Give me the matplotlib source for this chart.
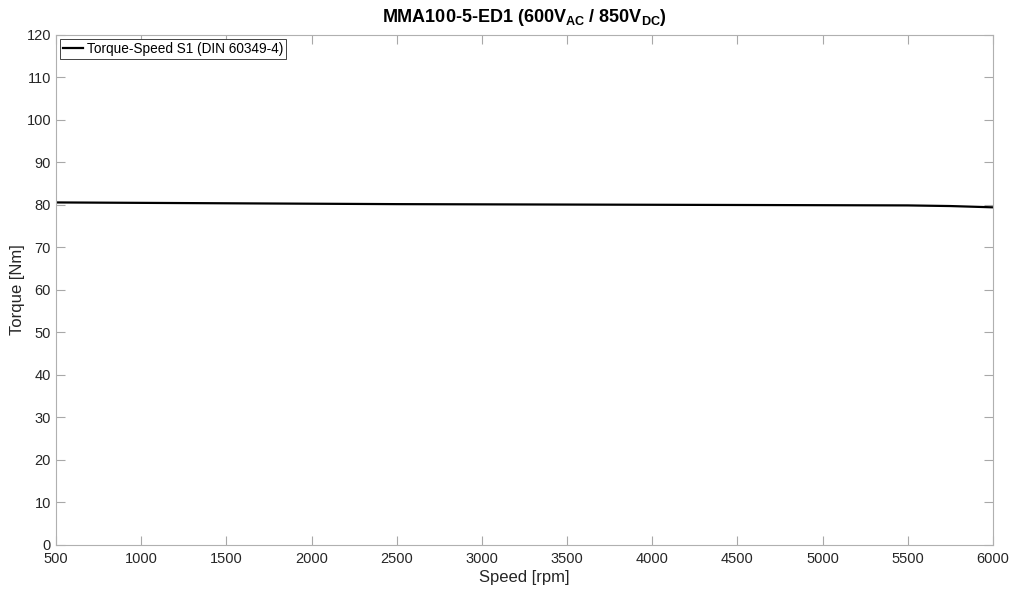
import numpy as np
import matplotlib.pyplot as plt

plt.rcParams['font.family'] = ['Liberation Sans', 'DejaVu Sans']
plt.rcParams['mathtext.fontset'] = 'custom'
plt.rcParams['mathtext.bf'] = 'Liberation Sans:bold'
plt.rcParams['mathtext.rm'] = 'Liberation Sans'

# Kennlinie S1
speed = [500, 1000, 1500, 2000, 2500, 3000, 3500, 4000, 4500, 5000, 5500, 5750, 6000]
torque = [80.6, 80.5, 80.4, 80.3, 80.2, 80.15, 80.1, 80.05, 80.0, 79.95, 79.9, 79.75, 79.45]

xticks = np.arange(500, 6001, 500)
yticks = np.arange(0, 121, 10)

fig = plt.figure(figsize=(10.12, 5.9), dpi=100)
ax = fig.add_axes([0.0553, 0.0763, 0.9259, 0.8644])

ax.plot(speed, torque, color='black', lw=1.6, label='Torque-Speed S1 (DIN 60349-4)')

ax.set_xlim(500, 6000)
ax.set_ylim(0, 120)
ax.set_xticks(xticks)
ax.set_yticks(yticks)
ax.tick_params(direction='in', length=6.5, width=0.8, color='#a8a8a8',
               labelsize=10.5, labelcolor='#262626', top=True, right=True)
ax.tick_params(axis='x', pad=5)
for s in ax.spines.values():
    s.set_color('#b0b0b0')
    s.set_linewidth(0.8)

ax.set_xlabel('Speed [rpm]', fontsize=12, color='#262626', labelpad=3)
ax.set_ylabel('Torque [Nm]', fontsize=12, color='#262626', labelpad=1)
ax.set_title(r'MMA100-5-ED1 (600V$_{\mathbf{AC}}$ / 850V$_{\mathbf{DC}}$)',
             fontsize=13, fontweight='bold', color='black', pad=9)

leg = ax.legend(loc='upper left', fontsize=9.8, handlelength=1.5, handletextpad=0.3,
                borderpad=0.2, borderaxespad=0.3, fancybox=False, framealpha=1)
leg.get_frame().set_edgecolor('#262626')
leg.get_frame().set_linewidth(0.6)

fig.savefig('out.png', dpi=100)
